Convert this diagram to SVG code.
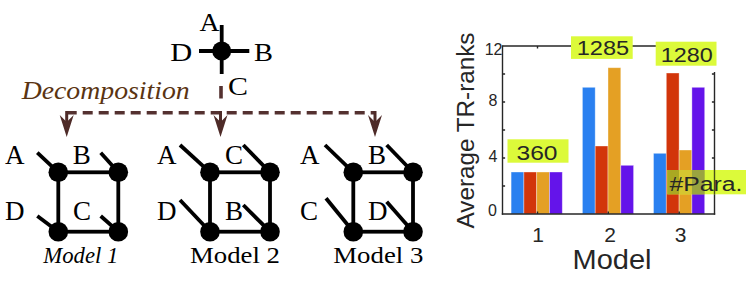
<svg xmlns="http://www.w3.org/2000/svg" width="749" height="283" viewBox="0 0 749 283">
<defs>
<style>
.ln{stroke:#000;stroke-width:3.8;fill:none;stroke-linecap:butt}
.dot{fill:#000}
.lbl{font-family:"Liberation Serif","Times New Roman",serif;font-size:27px;fill:#000}
.tlbl{font-family:"Liberation Serif","Times New Roman",serif;font-size:25px;fill:#000}
.cap{font-family:"Liberation Serif","Times New Roman",serif;font-size:23px;fill:#000}
.dash{stroke:#543130;stroke-width:3.6;fill:none;stroke-dasharray:10 6}
.arr{fill:#4e2b28}
.ax{stroke:#262626;stroke-width:1.4;fill:none}
.tk{font-family:"Liberation Sans",Arial,sans-serif;fill:#262626}
.box{fill:#dcfa3a}
.bar{stroke:#ffffff;stroke-opacity:0.45;stroke-width:0.8}
.b1{fill:#2a80f0}.b2{fill:#d2350a}.b3{fill:#e4a024}.b4{fill:#6414ea}
</style>
</defs>
<rect width="749" height="283" fill="#fff"/>

<g id="node-cross">
<line class="ln" x1="199" y1="51" x2="249.3" y2="51"/>
<line class="ln" x1="221.7" y1="25" x2="221.7" y2="74"/>
<circle class="dot" cx="221.7" cy="51" r="9.5"/>
<text class="tlbl" x="209.5" y="30.5" text-anchor="middle" textLength="20" lengthAdjust="spacingAndGlyphs">A</text>
<text class="tlbl" x="181.3" y="61" text-anchor="middle" textLength="22" lengthAdjust="spacingAndGlyphs">D</text>
<text class="tlbl" x="263.5" y="61" text-anchor="middle" textLength="19" lengthAdjust="spacingAndGlyphs">B</text>
<text class="tlbl" x="238" y="95" text-anchor="middle" textLength="20" lengthAdjust="spacingAndGlyphs">C</text>
</g>

<text id="decomp" x="21.7" y="99.3" font-family="'Liberation Serif','Times New Roman',serif" font-style="italic" font-size="25" fill="#5a3412" textLength="168" lengthAdjust="spacingAndGlyphs">Decomposition</text>

<g id="connectors">
<line class="dash" x1="221" y1="86" x2="221" y2="98.5" style="stroke-dasharray:none"/>
<line class="dash" x1="66.7" y1="112.7" x2="376" y2="112.7"/>
<line x1="66.7" y1="111" x2="66.7" y2="122" stroke="#4e2b28" stroke-width="3"/>
<polygon class="arr" points="66.7,137 59.7,115 66.7,122 73.7,115"/>
<line x1="220.5" y1="111" x2="220.5" y2="122" stroke="#4e2b28" stroke-width="3"/>
<polygon class="arr" points="220.5,137 213.5,115 220.5,122 227.5,115"/>
<line x1="375" y1="111" x2="375" y2="122" stroke="#4e2b28" stroke-width="3"/>
<polygon class="arr" points="375,137 368,115 375,122 382,115"/>
</g>

<g id="node-model1">
<text class="lbl" x="5" y="163.8">A</text>
<text class="lbl" x="72.7" y="163.8">B</text>
<text class="lbl" x="5" y="219.5">D</text>
<text class="lbl" x="73" y="219.5">C</text>
<rect class="ln" x="58.3" y="172.3" width="60" height="59.4"/>
<line class="ln" x1="37.3" y1="152.7" x2="58.3" y2="172.3"/>
<line class="ln" x1="100.7" y1="152.7" x2="118.3" y2="172.3"/>
<line class="ln" x1="37.3" y1="216" x2="58.3" y2="231.7"/>
<line class="ln" x1="100.7" y1="216" x2="118.3" y2="231.7"/>
<circle class="dot" cx="58.3" cy="172.3" r="9.8"/>
<circle class="dot" cx="118.3" cy="172.3" r="9.8"/>
<circle class="dot" cx="58.3" cy="231.7" r="9.8"/>
<circle class="dot" cx="118.3" cy="231.7" r="9.8"/>
<text x="43.3" y="263.3" font-family="'Liberation Serif','Times New Roman',serif" font-style="italic" font-size="23" textLength="75" lengthAdjust="spacingAndGlyphs">Model 1</text>
</g>

<g id="node-model2">
<text class="lbl" x="157" y="163.8">A</text>
<text class="lbl" x="225" y="163.8">C</text>
<text class="lbl" x="157" y="219.5">D</text>
<text class="lbl" x="225" y="219.5">B</text>
<rect class="ln" x="210" y="172.3" width="60" height="59.4"/>
<line class="ln" x1="180" y1="145" x2="210" y2="172.3"/>
<line class="ln" x1="243.3" y1="145" x2="270" y2="172.3"/>
<line class="ln" x1="180" y1="200" x2="210" y2="231.7"/>
<line class="ln" x1="243.3" y1="205" x2="270" y2="231.7"/>
<circle class="dot" cx="210" cy="172.3" r="9.8"/>
<circle class="dot" cx="270" cy="172.3" r="9.8"/>
<circle class="dot" cx="210" cy="231.7" r="9.8"/>
<circle class="dot" cx="270" cy="231.7" r="9.8"/>
<text class="cap" x="190" y="263.3" textLength="90" lengthAdjust="spacingAndGlyphs">Model 2</text>
</g>

<g id="node-model3">
<text class="lbl" x="300" y="163.8">A</text>
<text class="lbl" x="368" y="163.8">B</text>
<text class="lbl" x="300" y="219.5">C</text>
<text class="lbl" x="368" y="219.5">D</text>
<rect class="ln" x="353.3" y="172.3" width="59.7" height="59.4"/>
<line class="ln" x1="325" y1="145" x2="353.3" y2="172.3"/>
<line class="ln" x1="386.7" y1="145" x2="413" y2="172.3"/>
<line class="ln" x1="326" y1="198.3" x2="353.3" y2="231.7"/>
<line class="ln" x1="386.7" y1="201.7" x2="413" y2="231.7"/>
<circle class="dot" cx="353.3" cy="172.3" r="9.8"/>
<circle class="dot" cx="413" cy="172.3" r="9.8"/>
<circle class="dot" cx="353.3" cy="231.7" r="9.8"/>
<circle class="dot" cx="413" cy="231.7" r="9.8"/>
<text class="cap" x="333.3" y="263.3" textLength="90" lengthAdjust="spacingAndGlyphs">Model 3</text>
</g>

<g id="chart">
<rect class="bar b1" x="511.1" y="172" width="12.8" height="42"/>
<rect class="bar b2" x="523.9" y="172" width="12.8" height="42"/>
<rect class="bar b3" x="536.7" y="172" width="12.8" height="42"/>
<rect class="bar b4" x="549.5" y="172" width="12.8" height="42"/>
<rect class="bar b1" x="582.4" y="87.3" width="12.8" height="126.7"/>
<rect class="bar b2" x="595.2" y="146" width="12.8" height="68"/>
<rect class="bar b3" x="608" y="67.7" width="12.8" height="146.3"/>
<rect class="bar b4" x="620.8" y="165.3" width="12.8" height="48.7"/>
<rect class="bar b1" x="653.5" y="153.3" width="12.8" height="60.7"/>
<rect class="bar b2" x="666.3" y="73" width="12.8" height="141"/>
<rect class="bar b3" x="679.1" y="150" width="12.8" height="64"/>
<rect class="bar b4" x="691.9" y="87.3" width="12.8" height="126.7"/>

<line class="ax" x1="502.5" y1="46" x2="714.5" y2="46"/>
<line class="ax" x1="502.5" y1="45.3" x2="502.5" y2="214.7"/>
<line class="ax" x1="501.8" y1="214" x2="715.2" y2="214"/>
<line class="ax" x1="714.5" y1="72" x2="714.5" y2="214.7"/>
<path class="ax" d="M502.5 186h2.6M502.5 158h2.6M502.5 130h2.6M502.5 102h2.6M502.5 74h2.6M714.5 186h-2.6M714.5 158h-2.6M714.5 130h-2.6M714.5 102h-2.6M714.5 74h-2.6M537.5 214v-2.6M608.3 214v-2.6M679.2 214v-2.6M537.5 46v2.6"/>

<g class="tk" font-size="16" text-anchor="end">
<text x="497" y="215.5">0</text>
<text x="497.5" y="162">4</text>
<text x="497.5" y="106">8</text>
<text x="502.5" y="54.5">12</text>
</g>
<g class="tk" font-size="21" text-anchor="middle">
<text x="538" y="241.5">1</text>
<text x="610" y="241.5">2</text>
<text x="680.5" y="241.5">3</text>
</g>
<text class="tk" x="612" y="269.3" font-size="27" text-anchor="middle" textLength="79" lengthAdjust="spacingAndGlyphs">Model</text>
<text class="tk" transform="translate(473.5,130.5) rotate(-90)" font-size="23" text-anchor="middle" textLength="196" lengthAdjust="spacingAndGlyphs">Average TR-ranks</text>

<rect class="box" x="507.5" y="139.3" width="61" height="23.4"/>
<text class="tk" x="537" y="160" font-size="20" text-anchor="middle" textLength="41" lengthAdjust="spacingAndGlyphs">360</text>
<rect class="box" x="571" y="36.3" width="61.7" height="22.6"/>
<text class="tk" x="603" y="54.7" font-size="20" text-anchor="middle" textLength="52.5" lengthAdjust="spacingAndGlyphs">1285</text>
<rect class="box" x="655.7" y="41.7" width="60.8" height="24"/>
<text class="tk" x="686.7" y="62" font-size="20" text-anchor="middle" textLength="52" lengthAdjust="spacingAndGlyphs">1280</text>

<rect class="box" x="667.3" y="170" width="78.7" height="24.3"/>
<rect x="667.3" y="170" width="11.8" height="24.3" fill="#aaa822"/>
<rect x="679.1" y="170" width="12.8" height="24.3" fill="#d6c630"/>
<rect x="691.9" y="170" width="12.8" height="24.3" fill="#9aa440"/>
<line x1="714.5" y1="170" x2="714.5" y2="194.3" stroke="#4a5018" stroke-width="1.4"/>
<text class="tk" x="706" y="191" font-size="20" text-anchor="middle" textLength="73" lengthAdjust="spacingAndGlyphs">#Para.</text>
</g>
</svg>
